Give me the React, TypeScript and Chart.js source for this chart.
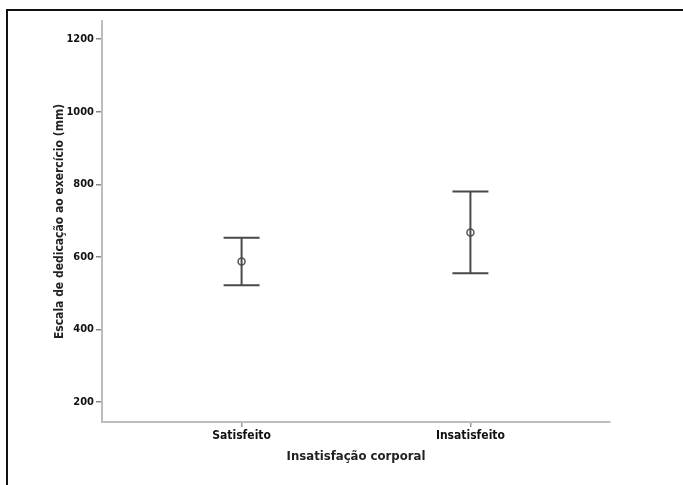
import React, { useEffect, useRef } from "react";
import { Chart, registerables } from "chart.js";

Chart.register(...registerables);

const categories = ["Satisfeito", "Insatisfeito"];
const categoryPositions = [1, 2];
const means = [587, 667];
const lowers = [522, 555];
const uppers = [653, 780];
const yTicks = [200, 400, 600, 800, 1000, 1200];

const FONT = "'DejaVu Sans Condensed', 'Liberation Sans Narrow', sans-serif";

const errorBarPlugin = {
  id: "errorBars",
  afterDatasetsDraw(chart: any) {
    const ctx = chart.ctx;
    const xs = chart.scales.x;
    const ys = chart.scales.y;
    ctx.save();
    ctx.strokeStyle = "#4a4a4a";
    ctx.lineWidth = 2;
    const cap = 18;
    categoryPositions.forEach((pos, i) => {
      const x = xs.getPixelForValue(pos);
      const yl = ys.getPixelForValue(lowers[i]);
      const yu = ys.getPixelForValue(uppers[i]);
      ctx.beginPath();
      ctx.moveTo(x, yl);
      ctx.lineTo(x, yu);
      ctx.moveTo(x - cap, yl);
      ctx.lineTo(x + cap, yl);
      ctx.moveTo(x - cap, yu);
      ctx.lineTo(x + cap, yu);
      ctx.stroke();
    });
    ctx.restore();
  },
};

export default function App() {
  const ref = useRef<HTMLCanvasElement>(null);
  useEffect(() => {
    if (!ref.current) return;
    const chart = new Chart(ref.current, {
      type: "scatter",
      data: {
        datasets: [
          {
            data: categoryPositions.map((p, i) => ({ x: p, y: means[i] })),
            pointStyle: "circle",
            pointRadius: 3.5,
            pointBorderWidth: 1.5,
            pointBorderColor: "#555555",
            pointBackgroundColor: "rgba(255,255,255,0.4)",
          },
        ],
      },
      options: {
        animation: false,
        responsive: false,
        devicePixelRatio: 1,
        layout: { padding: { top: 21, right: 73, left: 0, bottom: 0 } },
        plugins: { legend: { display: false }, tooltip: { enabled: false } },
        scales: {
          x: {
            type: "linear",
            min: 0.39,
            max: 2.61,
            afterBuildTicks: (s: any) => {
              s.ticks = categoryPositions.map((v) => ({ value: v }));
            },
            afterFit: (s: any) => {
              s.height = 63;
            },
            ticks: {
              callback: (v: any) => categories[categoryPositions.indexOf(Number(v))] ?? "",
              color: "#111",
              font: { family: FONT, size: 12, weight: "bold" },
              padding: 2,
              maxRotation: 0,
            },
            grid: { drawOnChartArea: false, tickLength: 5, color: "#999", lineWidth: 1.5 },
            border: { color: "#bdbdbd", width: 2 },
            title: {
              display: true,
              text: "Insatisfação corporal",
              color: "#222",
              font: { family: FONT, size: 13, weight: "bold" },
              padding: { top: 0, bottom: 21 },
            },
          },
          y: {
            type: "linear",
            min: 145,
            max: 1250,
            afterBuildTicks: (s: any) => {
              s.ticks = yTicks.map((v) => ({ value: v }));
            },
            afterFit: (s: any) => {
              s.width = 102;
            },
            ticks: {
              callback: (v: any) => String(v),
              color: "#111",
              font: { family: FONT, size: 11, weight: "bold" },
              padding: 2,
            },
            grid: { drawOnChartArea: false, tickLength: 6, color: "#888", lineWidth: 1.5 },
            border: { color: "#bdbdbd", width: 2 },
            title: {
              display: true,
              text: "Escala de dedicação ao exercício (mm)",
              color: "#222",
              font: { family: FONT, size: 12, weight: "bold" },
              padding: { top: 53, bottom: 0 },
            },
          },
        },
      },
      plugins: [errorBarPlugin],
    });
    return () => chart.destroy();
  }, []);

  return (
    <div>
      <div
        style={{
          position: "fixed",
          left: 6,
          top: 9,
          width: 677,
          height: 476,
          borderTop: "2px solid #111",
          borderLeft: "2px solid #111",
          boxSizing: "border-box",
        }}
      />
      <canvas
        ref={ref}
        width={683}
        height={485}
        style={{ position: "fixed", left: 0, top: 0, width: 683, height: 485 }}
      />
    </div>
  );
}
